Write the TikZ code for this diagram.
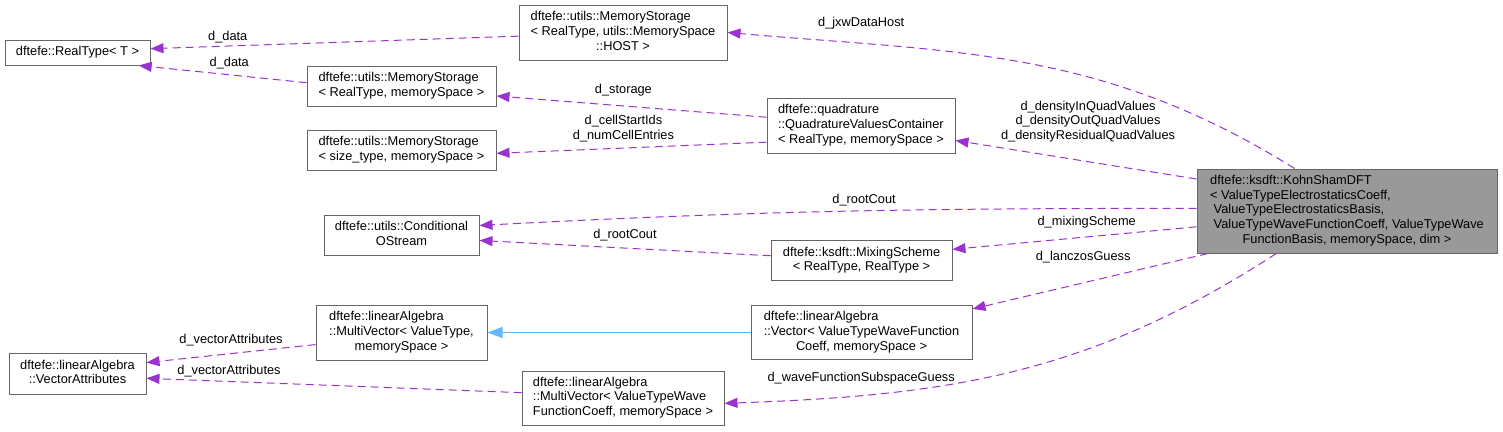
\documentclass[tikz,border=0pt]{standalone}
\usepackage{fontspec}
\setmainfont{Liberation Sans}
\usetikzlibrary{arrows.meta,positioning}

\definecolor{edgepurple}{HTML}{9A32CD}
\definecolor{edgeblue}{HTML}{63B8FF}
\definecolor{boxgray}{HTML}{666666}
\definecolor{mainfill}{HTML}{999999}
\newcommand{\dxlines}[2]{\begin{tabular}{@{}l@{}}#1\\\multicolumn{1}{@{}c@{}}{#2}\end{tabular}}

\begin{document}
\begin{tikzpicture}[x=1pt, y=-1pt, >={Triangle[length=13pt,width=10pt]},
  font=\fontsize{12.8}{14.7}\selectfont,
  cls/.style={draw=boxgray, line width=1pt, inner sep=0pt},
  main/.style={cls, fill=mainfill},
  member/.style={->, color=edgepurple, line width=1pt, dash pattern=on 8pt off 5pt},
  inherit/.style={-{Triangle[length=15pt,width=11pt]}, color=edgeblue, line width=1pt},
  lbl/.style={inner sep=0pt, align=center, text=black}]
  \useasboundingbox (0,0) rectangle (1503,431);

  \node[cls, minimum width=145pt, minimum height=25pt] (realtype) at (77.5,52.5) {dftefe::RealType< T >};
  \node[cls, minimum width=208pt, minimum height=55pt] (jxwhost) at (623,32.5)
    {\dxlines{dftefe::utils::MemoryStorage\\< RealType, utils::MemorySpace}{::HOST >}};
  \node[cls, minimum width=189pt, minimum height=40pt] (storagereal) at (401.5,86)
    {\dxlines{dftefe::utils::MemoryStorage}{< RealType, memorySpace >}};
  \node[cls, minimum width=189pt, minimum height=40pt] (storagesize) at (401.5,150)
    {\dxlines{dftefe::utils::MemoryStorage}{< size\_type, memorySpace >}};
  \node[cls, minimum width=188pt, minimum height=55pt] (quadvalues) at (861,125.5)
    {\dxlines{dftefe::quadrature\\::QuadratureValuesContainer}{< RealType, memorySpace >}};
  \node[cls, minimum width=155pt, minimum height=40pt] (rootcout) at (401.5,235)
    {\dxlines{dftefe::utils::Conditional}{OStream}};
  \node[cls, minimum width=181pt, minimum height=40pt] (mixing) at (861.5,260.5)
    {\dxlines{dftefe::ksdft::MixingScheme}{< RealType, RealType >}};
  \node[cls, minimum width=171pt, minimum height=55pt] (multivecvt) at (401.5,332.5)
    {\dxlines{dftefe::linearAlgebra\\::MultiVector< ValueType,}{memorySpace >}};
  \node[cls, minimum width=137pt, minimum height=41pt] (vecattr) at (77.5,373.5)
    {\dxlines{dftefe::linearAlgebra}{::VectorAttributes}};
  \node[cls, minimum width=221pt, minimum height=54pt] (lanczos) at (861.5,332.5)
    {\dxlines{dftefe::linearAlgebra\\::Vector< ValueTypeWaveFunction}{Coeff, memorySpace >}};
  \node[cls, minimum width=202pt, minimum height=54pt] (multivecwave) at (623,398)
    {\dxlines{dftefe::linearAlgebra\\::MultiVector< ValueTypeWave}{FunctionCoeff, memorySpace >}};
  \node[main, minimum width=300pt, minimum height=84pt] (ks) at (1347,211)
    {\dxlines{dftefe::ksdft::KohnShamDFT\\< ValueTypeElectrostaticsCoeff,\\\ ValueTypeElectrostaticsBasis,\\\ ValueTypeWaveFunctionCoeff, ValueTypeWave}{FunctionBasis, memorySpace, dim >}};

  \path[member]
    (ks.141)           edge [out=148, in=-5] node [lbl, pos=0.79, above=13pt] {d\_jxwDataHost} (jxwhost.east)
    (jxwhost.182)      edge node [lbl, pos=0.79, above=3pt] {d\_data} (realtype.3)
    (storagereal.178)  edge node [lbl, pos=0.46, above=5pt] {d\_data} (realtype.-12)
    (quadvalues.175)   edge node [lbl, pos=0.53, above=9pt] {d\_storage} (storagereal.-6)
    (quadvalues.190)   edge node [lbl, pos=0.53, above=6pt] {d\_cellStartIds\\d\_numCellEntries} (storagesize.-2)
    (ks.168)           edge node [lbl, pos=0.45, above=19pt] {d\_densityInQuadValues\\d\_densityOutQuadValues\\d\_densityResidualQuadValues} (quadvalues.-9)
    (ks.179)           edge [out=180, in=3] node [lbl, pos=0.46, above=4pt] {d\_rootCout} (rootcout.7)
    (mixing.177)       edge node [lbl, pos=0.5, above=7pt] {d\_rootCout} (rootcout.-4)
    (ks.186)           edge node [lbl, pos=0.45, above=8pt] {d\_mixingScheme} (mixing.7)
    (ks.197)           edge node [lbl, pos=0.53, above=19pt] {d\_lanczosGuess} (lanczos.12)
    (multivecvt.188)   edge node [lbl, pos=0.5, above=7pt] {d\_vectorAttributes} (vecattr.9)
    (multivecwave.177) edge node [lbl, pos=0.78, above=4pt] {d\_vectorAttributes} (vecattr.-4)
    (ks.211)           edge [out=213, in=2] node [lbl, pos=0.78, above=11pt] {d\_waveFunctionSubspaceGuess} (multivecwave.-3);
  \path[inherit] (lanczos) edge (multivecvt);
\end{tikzpicture}
\end{document}
